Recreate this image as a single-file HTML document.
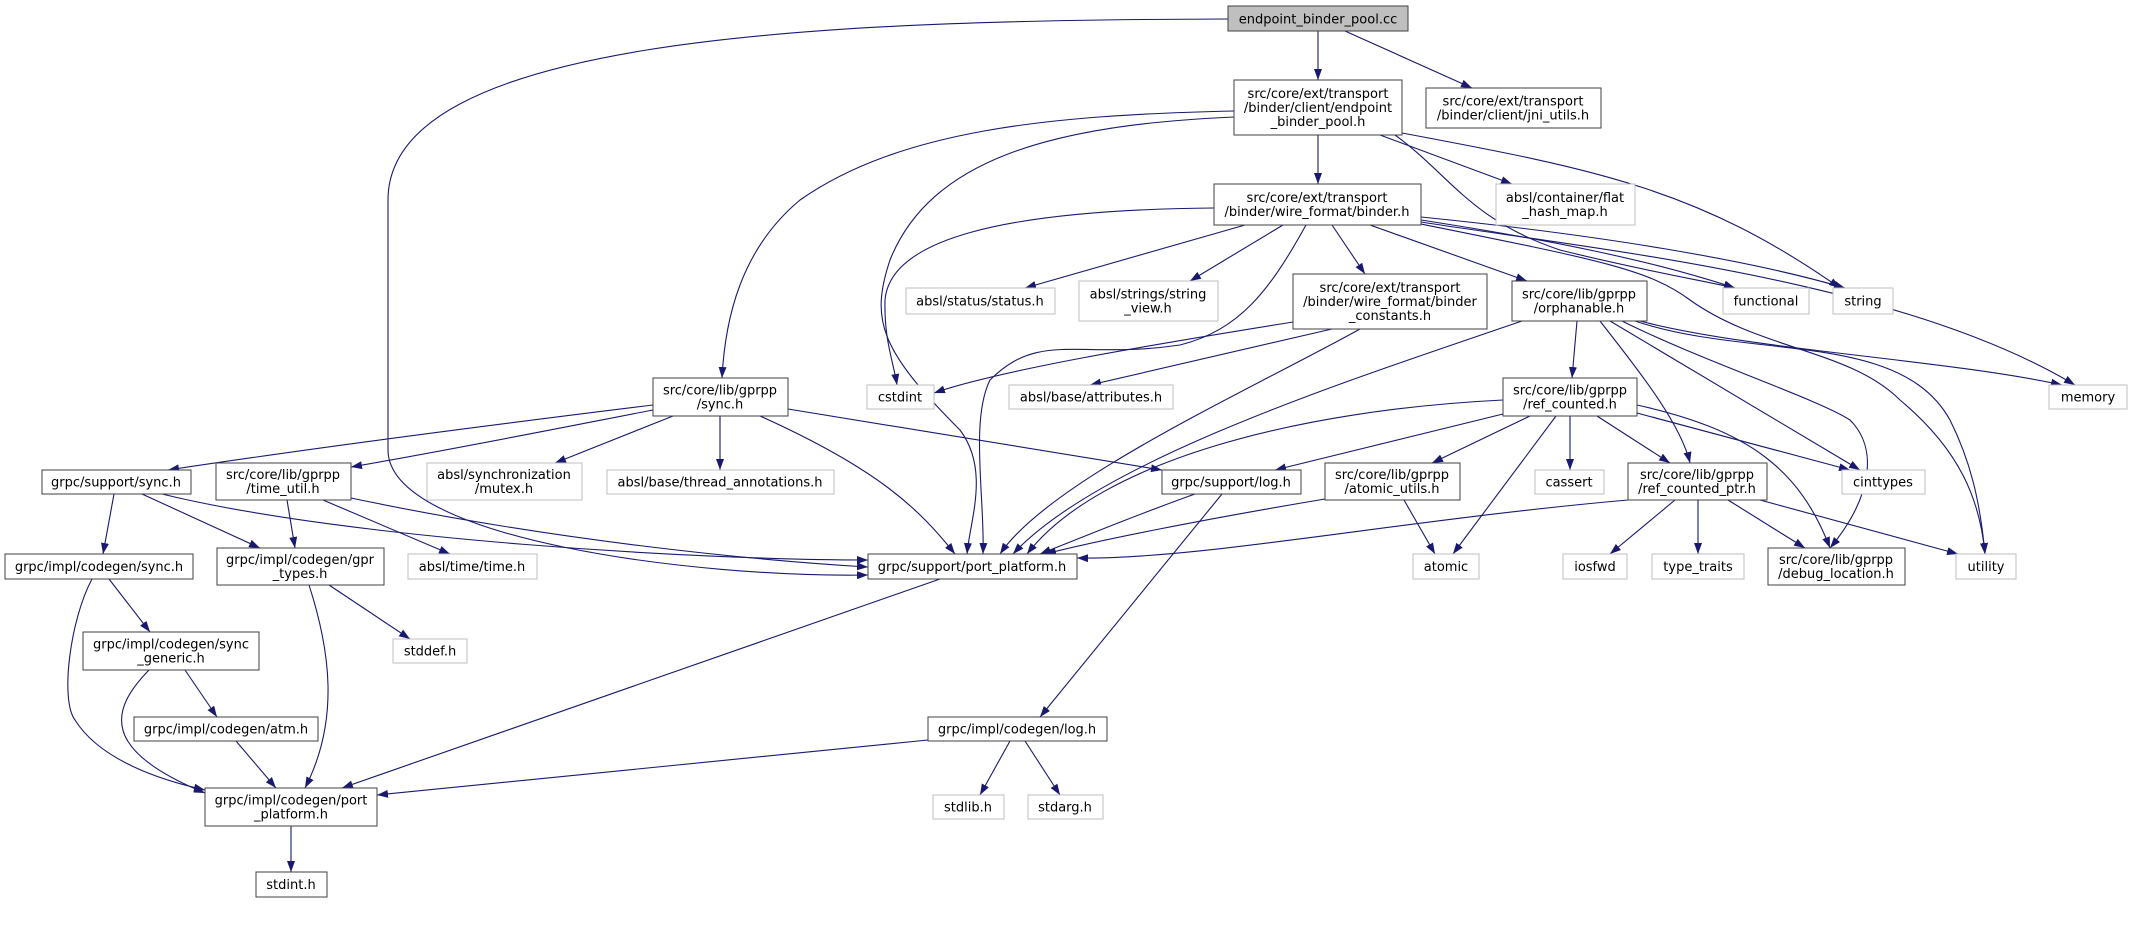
<!DOCTYPE html>
<html><head><meta charset="utf-8"><style>
html,body{margin:0;padding:0;background:#fff;}
svg{display:block;}
text{font-family:"DejaVu Sans","Liberation Sans",sans-serif;font-size:13px;fill:#000;text-anchor:middle;}
.n{fill:#fff;stroke:#404040;stroke-width:1;}
.g{fill:#fff;stroke:#bfbfbf;stroke-width:1;}
.e{fill:none;stroke:#191970;stroke-width:1.1;marker-end:url(#a);}
</style></head><body>
<svg width="2133" height="931" viewBox="0 0 2133 931" xmlns="http://www.w3.org/2000/svg">
<defs><marker id="a" markerUnits="userSpaceOnUse" markerWidth="11" markerHeight="8" refX="11" refY="4" orient="auto"><path d="M0,0 L11,4 L0,8 z" fill="#191970"/></marker></defs>

<!-- edges -->
<path class="e" d="M1318,31 L1318,80"/>
<path class="e" d="M1345,31 L1472,88"/>
<path class="e" d="M1228,19 C800,20 388,40 388,200 L388,450 C388,540 700,578 868,575"/>
<path class="e" d="M1318,135 L1318,184"/>
<path class="e" d="M1380,135 L1512,184"/>
<path class="e" d="M1402,133 C1600,170 1700,190 1840,288"/>
<path class="e" d="M1395,135 C1450,175 1470,220 1560,250 C1640,270 1700,280 1735,288"/>
<path class="e" d="M1234,111 C1050,115 900,130 800,200 C740,250 725,320 722,378"/>
<path class="e" d="M1234,117 C1050,125 930,160 890,260 C870,320 880,350 960,430 C990,470 970,520 967,554"/>
<path class="e" d="M1214,208 C1000,210 890,240 885,300 C884,340 893,360 897,385"/>
<path class="e" d="M1245,225 L1025,288"/>
<path class="e" d="M1283,225 L1190,281"/>
<path class="e" d="M1332,225 L1365,274"/>
<path class="e" d="M1370,225 L1527,281"/>
<path class="e" d="M1306,225 C1270,290 1240,330 1180,345 C1080,360 1040,330 990,380 C970,420 985,500 983,554"/>
<path class="e" d="M1421,220 C1550,240 1650,260 1735,288"/>
<path class="e" d="M1421,217 C1600,235 1750,260 1845,288"/>
<path class="e" d="M1421,222 C1600,250 1900,280 2075,385"/>
<path class="e" d="M1421,224 C1600,260 1650,270 1690,300 C1760,350 1850,350 1900,400 C1960,450 1980,500 1985,554"/>
<path class="e" d="M1293,322 C1150,345 1000,370 934,393"/>
<path class="e" d="M1332,329 L1090,385"/>
<path class="e" d="M1360,329 C1250,390 1050,480 1000,554"/>
<path class="e" d="M1577,321 L1572,378"/>
<path class="e" d="M1522,321 C1350,380 1100,460 1013,554"/>
<path class="e" d="M1610,321 L1860,470"/>
<path class="e" d="M1600,321 C1630,360 1680,420 1690,463"/>
<path class="e" d="M1622,321 C1700,360 1820,400 1850,420 C1880,450 1870,500 1830,548"/>
<path class="e" d="M1640,321 C1750,350 1950,360 2062,385"/>
<path class="e" d="M1635,321 C1750,360 1900,330 1950,420 C1970,460 1980,500 1985,554"/>
<path class="e" d="M1503,400 C1300,410 1100,460 1027,554"/>
<path class="e" d="M1503,414 L1275,470"/>
<path class="e" d="M1530,416 L1432,463"/>
<path class="e" d="M1556,416 L1453,554"/>
<path class="e" d="M1570,416 L1570,470"/>
<path class="e" d="M1597,416 L1670,463"/>
<path class="e" d="M1637,413 L1850,470"/>
<path class="e" d="M1637,405 C1750,430 1800,470 1830,548"/>
<path class="e" d="M1628,500 C1400,520 1200,560 1077,558"/>
<path class="e" d="M1675,500 L1610,554"/>
<path class="e" d="M1698,500 L1698,554"/>
<path class="e" d="M1728,500 L1805,548"/>
<path class="e" d="M1760,500 L1958,554"/>
<path class="e" d="M1195,494 C1150,510 1100,530 1040,554"/>
<path class="e" d="M1222,494 L1040,717"/>
<path class="e" d="M1325,499 C1200,520 1100,540 1045,554"/>
<path class="e" d="M1404,500 L1435,554"/>
<path class="e" d="M653,405 C450,430 300,450 168,470"/>
<path class="e" d="M653,410 C550,430 450,450 351,467"/>
<path class="e" d="M673,416 L555,463"/>
<path class="e" d="M720,416 L720,470"/>
<path class="e" d="M760,416 C880,470 920,510 955,554"/>
<path class="e" d="M788,409 L1162,470"/>
<path class="e" d="M114,494 L103,554"/>
<path class="e" d="M142,494 L260,548"/>
<path class="e" d="M162,494 C350,540 700,560 868,560"/>
<path class="e" d="M287,500 L295,548"/>
<path class="e" d="M323,500 L450,554"/>
<path class="e" d="M351,498 C550,540 750,560 868,567"/>
<path class="e" d="M109,579 L150,632"/>
<path class="e" d="M92,579 C70,620 60,700 75,720 C100,760 160,780 205,790"/>
<path class="e" d="M309,585 C330,650 340,720 305,788"/>
<path class="e" d="M329,585 L410,639"/>
<path class="e" d="M185,670 L217,717"/>
<path class="e" d="M149,670 C110,710 100,750 205,793"/>
<path class="e" d="M236,741 L276,788"/>
<path class="e" d="M291,826 L291,872"/>
<path class="e" d="M928,740 L377,795"/>
<path class="e" d="M1010,741 L980,795"/>
<path class="e" d="M1025,741 L1060,795"/>
<path class="e" d="M940,579 L342,788"/>

<!-- nodes -->
<rect x="1228" y="6" width="180" height="25" fill="#bfbfbf" stroke="#404040"/>
<text x="1318" y="23.5">endpoint_binder_pool.cc</text>

<rect class="n" x="1234" y="80" width="168" height="55"/>
<text x="1318" y="98">src/core/ext/transport</text><text x="1318" y="112">/binder/client/endpoint</text><text x="1318" y="126">_binder_pool.h</text>

<rect class="n" x="1426" y="88" width="175" height="40"/>
<text x="1513" y="105.5">src/core/ext/transport</text><text x="1513" y="119.5">/binder/client/jni_utils.h</text>

<rect class="n" x="1214" y="184" width="207" height="41"/>
<text x="1317" y="202">src/core/ext/transport</text><text x="1317" y="216">/binder/wire_format/binder.h</text>

<rect class="g" x="1496" y="184" width="139" height="41"/>
<text x="1565" y="202">absl/container/flat</text><text x="1565" y="216">_hash_map.h</text>

<rect class="g" x="906" y="288" width="149" height="26"/>
<text x="980" y="305.5">absl/status/status.h</text>

<rect class="g" x="1079" y="281" width="139" height="40"/>
<text x="1148" y="298.5">absl/strings/string</text><text x="1148" y="312.5">_view.h</text>

<rect class="n" x="1293" y="274" width="194" height="55"/>
<text x="1390" y="292">src/core/ext/transport</text><text x="1390" y="306">/binder/wire_format/binder</text><text x="1390" y="320">_constants.h</text>

<rect class="n" x="1512" y="281" width="135" height="40"/>
<text x="1579" y="298.5">src/core/lib/gprpp</text><text x="1579" y="312.5">/orphanable.h</text>

<rect class="g" x="1723" y="288" width="86" height="26"/>
<text x="1766" y="305.5">functional</text>

<rect class="g" x="1833" y="288" width="60" height="26"/>
<text x="1863" y="305.5">string</text>

<rect class="g" x="867" y="385" width="67" height="24"/>
<text x="900" y="401.5">cstdint</text>

<rect class="g" x="1009" y="385" width="164" height="24"/>
<text x="1091" y="401.5">absl/base/attributes.h</text>

<rect class="g" x="2049" y="385" width="78" height="24"/>
<text x="2088" y="401.5">memory</text>

<rect class="n" x="653" y="378" width="135" height="38"/>
<text x="720" y="394.5">src/core/lib/gprpp</text><text x="720" y="408.5">/sync.h</text>

<rect class="n" x="1503" y="378" width="134" height="38"/>
<text x="1570" y="394.5">src/core/lib/gprpp</text><text x="1570" y="408.5">/ref_counted.h</text>

<rect class="n" x="42" y="470" width="149" height="24"/>
<text x="116" y="486.5">grpc/support/sync.h</text>

<rect class="n" x="216" y="463" width="135" height="37"/>
<text x="283" y="479">src/core/lib/gprpp</text><text x="283" y="493">/time_util.h</text>

<rect class="g" x="427" y="463" width="155" height="37"/>
<text x="504" y="479">absl/synchronization</text><text x="504" y="493">/mutex.h</text>

<rect class="g" x="607" y="470" width="227" height="24"/>
<text x="720" y="486.5">absl/base/thread_annotations.h</text>

<rect class="n" x="1162" y="470" width="139" height="24"/>
<text x="1231" y="486.5">grpc/support/log.h</text>

<rect class="n" x="1325" y="463" width="135" height="37"/>
<text x="1392" y="479">src/core/lib/gprpp</text><text x="1392" y="493">/atomic_utils.h</text>

<rect class="g" x="1535" y="470" width="69" height="24"/>
<text x="1569" y="486.5">cassert</text>

<rect class="n" x="1628" y="463" width="139" height="37"/>
<text x="1697" y="479">src/core/lib/gprpp</text><text x="1697" y="493">/ref_counted_ptr.h</text>

<rect class="g" x="1842" y="470" width="83" height="24"/>
<text x="1883" y="486.5">cinttypes</text>

<rect class="n" x="5" y="554" width="188" height="25"/>
<text x="99" y="571">grpc/impl/codegen/sync.h</text>

<rect class="n" x="217" y="548" width="167" height="37"/>
<text x="300" y="564">grpc/impl/codegen/gpr</text><text x="300" y="578">_types.h</text>

<rect class="g" x="408" y="554" width="129" height="25"/>
<text x="472" y="571">absl/time/time.h</text>

<rect class="n" x="868" y="554" width="209" height="25"/>
<text x="972" y="571">grpc/support/port_platform.h</text>

<rect class="g" x="1413" y="554" width="66" height="25"/>
<text x="1446" y="571">atomic</text>

<rect class="g" x="1563" y="554" width="64" height="25"/>
<text x="1595" y="571">iosfwd</text>

<rect class="g" x="1652" y="554" width="92" height="25"/>
<text x="1698" y="571">type_traits</text>

<rect class="n" x="1768" y="548" width="137" height="37"/>
<text x="1836" y="564">src/core/lib/gprpp</text><text x="1836" y="578">/debug_location.h</text>

<rect class="g" x="1956" y="554" width="60" height="25"/>
<text x="1986" y="571">utility</text>

<rect class="n" x="83" y="632" width="176" height="38"/>
<text x="171" y="648.5">grpc/impl/codegen/sync</text><text x="171" y="662.5">_generic.h</text>

<rect class="g" x="393" y="639" width="74" height="24"/>
<text x="430" y="655.5">stddef.h</text>

<rect class="n" x="134" y="717" width="184" height="24"/>
<text x="226" y="733.5">grpc/impl/codegen/atm.h</text>

<rect class="n" x="928" y="717" width="179" height="24"/>
<text x="1017" y="733.5">grpc/impl/codegen/log.h</text>

<rect class="n" x="205" y="788" width="172" height="38"/>
<text x="291" y="804.5">grpc/impl/codegen/port</text><text x="291" y="818.5">_platform.h</text>

<rect class="g" x="933" y="795" width="71" height="24"/>
<text x="968" y="811.5">stdlib.h</text>

<rect class="g" x="1028" y="795" width="75" height="24"/>
<text x="1065" y="811.5">stdarg.h</text>

<rect class="n" x="256" y="872" width="71" height="25"/>
<text x="291" y="889">stdint.h</text>
</svg>
</body></html>
